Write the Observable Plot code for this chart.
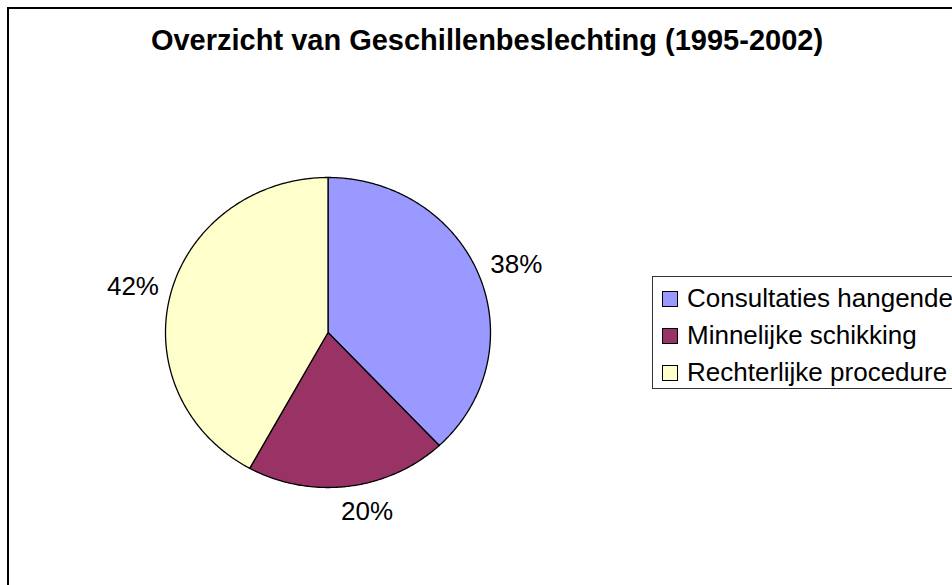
<!DOCTYPE html>
<html>
<head>
<meta charset="utf-8">
<script src="https://cdn.jsdelivr.net/npm/d3@7"></script>
<script src="https://cdn.jsdelivr.net/npm/@observablehq/plot@0.6"></script>
<style>
  html, body { margin: 0; padding: 0; background: #fff; }
  body { position: relative; width: 952px; height: 585px; overflow: hidden; font-family: "Liberation Sans", Arial, sans-serif; }
  #frame { position: absolute; left: 7px; top: 7px; width: 1000px; height: 700px; border: 2px solid #000; box-sizing: border-box; }
  #title { position: absolute; left: 0; width: 974px; top: 23px; text-align: center; font-weight: bold; font-size: 29px; line-height: 34px; color: #000; white-space: nowrap; }
  #chart { position: absolute; left: 0; top: 0; }
  #legend { position: absolute; left: 652px; top: 276px; width: 330px; height: 113px; border: 1px solid #333; box-sizing: border-box; background: #fff; }
  .item { position: absolute; left: 9px; height: 37px; display: flex; align-items: center; font-size: 26px; white-space: nowrap; color: #000; }
  .sw { width: 14px; height: 14px; border: 1px solid #000; margin-right: 9px; flex: none; }
</style>
</head>
<body>
<div id="frame"></div>
<div id="title"></div>
<div id="chart"></div>
<div id="legend"></div>
<script>
// ---- data ----
const title = "Overzicht van Geschillenbeslechting (1995-2002)";
const categories = ["Consultaties hangende", "Minnelijke schikking", "Rechterlijke procedure"];
const values = [38, 20, 42];
const labels = ["38%", "20%", "42%"];
const colors = ["#9999FF", "#993366", "#FFFFCC"];

// ---- layout constants ----
const W = 952, H = 585;
const CX = 327.5, CY = 332, RX = 162.5, RY = 155;

document.getElementById("title").textContent = title;

// pie geometry from data (clockwise from 12 o'clock)
const pie = d3.pie().sort(null).value(d => d.value).startAngle(0).endAngle(2 * Math.PI);
const arcs = pie(categories.map((c, i) => ({name: c, value: values[i], label: labels[i]})));

const features = arcs.map(a => {
  const ring = [[0, 0]];
  const n = Math.max(2, Math.ceil((a.endAngle - a.startAngle) / (Math.PI / 360)));
  for (let k = 0; k <= n; k++) {
    const t = a.startAngle + (a.endAngle - a.startAngle) * k / n;
    ring.push([Math.sin(t), Math.cos(t)]);
  }
  ring.push([0, 0]);
  return {type: "Feature", properties: {name: a.data.name}, geometry: {type: "Polygon", coordinates: [ring]}};
});

// label positions (outside end, Excel-like)
const LW = 52, LH = 20, GAPX = 12, GAPY = 16, KX = 5, KY = 1.5;
const clamp = v => Math.max(-1, Math.min(1, v));
const labelData = arcs.map(a => {
  const m = (a.startAngle + a.endAngle) / 2;
  const ex = Math.sin(m) * RX, ey = -Math.cos(m) * RY; // pixel offsets, y down
  const len = Math.hypot(ex, ey);
  const ux = ex / len, uy = ey / len;
  const px = ex + ux * GAPX + clamp(ux * KX) * LW / 2;
  const py = ey + uy * GAPY + clamp(uy * KY) * LH / 2;
  return {x: px / RX, y: -py / RY, label: a.data.label};
});

const projection = d3.geoTransform({
  point(x, y) { this.stream.point(CX + x * RX, CY - y * RY); }
});

const plot = Plot.plot({
  width: W,
  height: H,
  margin: 0,
  projection,
  color: {domain: categories, range: colors},
  marks: [
    Plot.geo(features, {fill: d => d.properties.name, stroke: "#000", strokeWidth: 1.3}),
    Plot.text(labelData, {x: "x", y: "y", text: "label", fontSize: 26, fill: "#000", textAnchor: "middle", lineAnchor: "middle", fontFamily: "Liberation Sans, Arial, sans-serif"})
  ]
});
document.getElementById("chart").appendChild(plot);

// legend
const leg = document.getElementById("legend");
categories.forEach((c, i) => {
  const it = document.createElement("div");
  it.className = "item";
  it.style.top = (3 + i * 37) + "px";
  const sw = document.createElement("span");
  sw.className = "sw";
  sw.style.background = colors[i];
  const tx = document.createElement("span");
  tx.textContent = c;
  it.appendChild(sw);
  it.appendChild(tx);
  leg.appendChild(it);
});
</script>
</body>
</html>
